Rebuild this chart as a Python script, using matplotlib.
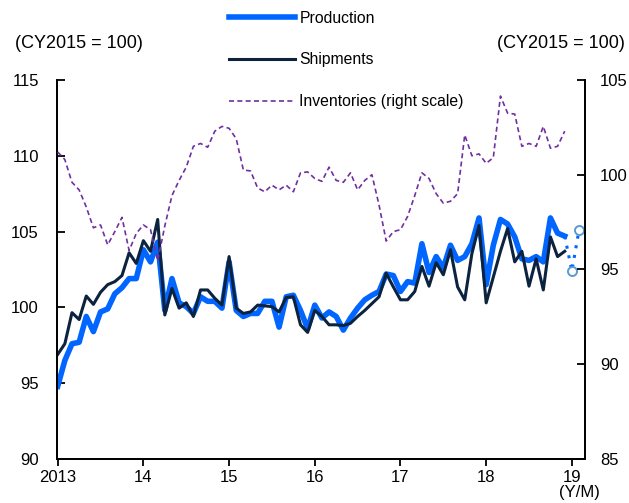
import matplotlib
matplotlib.use("Agg")
import matplotlib.pyplot as plt
from matplotlib.lines import Line2D
import numpy as np

production = [94.8, 96.5, 97.6, 97.7, 99.4, 98.4, 99.7, 99.9, 100.9, 101.3, 101.9, 101.9,
              103.8, 103.0, 104.3, 99.8, 101.9, 100.3, 100.05, 99.6, 100.7, 100.4, 100.4, 99.95,
              103.0, 99.8, 99.4, 99.6, 99.6, 100.4, 100.4, 98.7, 100.7, 100.8, 99.8, 98.6,
              100.15, 99.3, 99.7, 99.4, 98.5, 99.3, 99.95, 100.5, 100.8, 101.05, 102.2, 102.1,
              101.05, 101.7, 101.6, 104.2, 102.3, 103.35, 102.6, 104.1, 103.1, 103.35, 104.2, 105.9,
              101.5, 104.1, 105.8, 105.5, 104.65, 103.2, 103.1, 103.35, 103.0, 105.9, 104.9, 104.7]
shipments = [96.9, 97.6, 99.65, 99.2, 100.75, 100.2, 101.0, 101.5, 101.7, 102.1, 103.6, 102.9,
             104.4, 103.7, 105.8, 99.5, 101.25, 99.95, 100.3, 99.4, 101.15, 101.15, 100.6, 100.15,
             103.35, 99.95, 99.6, 99.7, 100.15, 100.1, 100.05, 99.7, 100.65, 100.7, 98.85, 98.35,
             99.8, 99.4, 98.85, 98.85, 98.8, 98.95, 99.4, 99.8, 100.25, 100.7, 102.25, 101.35,
             100.5, 100.5, 101.05, 102.7, 101.4, 102.95, 102.15, 103.8, 101.35, 100.5, 103.55, 105.4,
             100.3, 102.0, 103.7, 105.2, 103.0, 103.7, 101.4, 103.2, 101.15, 104.65, 103.35, 103.7]
inventories = [101.2, 100.8, 99.6, 99.2, 98.3, 97.2, 97.35, 96.3, 97.0, 97.75, 96.0, 96.9,
               97.35, 97.1, 95.45, 97.3, 98.9, 99.7, 100.4, 101.5, 101.65, 101.45, 102.3, 102.55,
               102.45, 101.9, 100.25, 100.2, 99.3, 99.1, 99.45, 99.2, 99.45, 99.1, 100.1, 100.15,
               99.8, 99.65, 100.4, 99.7, 99.6, 100.1, 99.2, 99.7, 100.0, 98.4, 96.5, 97.0,
               97.1, 97.8, 98.9, 100.1, 99.8, 99.0, 98.5, 98.6, 99.0, 102.1, 101.0, 101.1,
               100.6, 100.9, 104.15, 103.25, 103.2, 101.5, 101.65, 101.5, 102.55, 101.4, 101.5, 102.3]
forecast = [102.4, 105.1]  # Jan, Feb 2019 production forecasts

year_labels = ["2013", "14", "15", "16", "17", "18", "19"]
left_ticks = [90, 95, 100, 105, 110, 115]
right_ticks = [85, 90, 95, 100, 105]

plt.rcParams['font.family'] = ['Liberation Sans', 'DejaVu Sans']

fig = plt.figure(figsize=(6.29, 5.03), dpi=100)
ax = fig.add_axes([0.0906, 0.0875, 0.839, 0.7535])

months = np.arange(len(production))
c_prod = '#0066FF'
c_ship = '#0C2340'
c_inv = '#7030A0'

ax.plot(months, production, color=c_prod, lw=4.0, zorder=2)
ax.plot(months, shipments, color=c_ship, lw=2.2, zorder=3)

fx = [months[-1], months[-1] + 1, months[-1] + 2]
fy = [production[-1]] + forecast
ax.plot(fx, fy, color=c_prod, lw=2.2, ls=(0, (1, 2.2)), zorder=2)
ax.plot(fx[1:], fy[1:], ls='none', marker='o', ms=6.5, mfc='white', mec='#5B9BD5', mew=1.4, zorder=4)

ax.set_xlim(-0.1, 73.8)
ax.set_ylim(90, 115)
ax.set_yticks(left_ticks)
ax.set_xticks(np.arange(0, 73, 12))
ax.set_xticklabels(year_labels)
ax.spines['top'].set_visible(False)
for s in ['left', 'right', 'bottom']:
    ax.spines[s].set_linewidth(1.3)
ax.tick_params(axis='y', direction='in', length=6, width=1.3, labelsize=12, pad=13)
ax.tick_params(axis='x', direction='out', length=5, width=1.3, labelsize=12, pad=3)

ax2 = ax.twinx()
ax2.plot(months, inventories, color=c_inv, lw=1.2, ls=(0, (3, 2)), zorder=3)
ax2.set_ylim(85, 105)
ax2.set_yticks(right_ticks)
ax2.spines['top'].set_visible(False)
for s in ['left', 'right', 'bottom']:
    ax2.spines[s].set_linewidth(1.3)
ax2.tick_params(axis='y', direction='in', length=6, width=1.3, labelsize=12, pad=11)

handles = [Line2D([], [], color=c_prod, lw=4.0),
           Line2D([], [], color=c_ship, lw=2.2),
           Line2D([], [], color=c_inv, lw=1.2, ls=(0, (3, 2)))]
labels = ["Production", "Shipments", "Inventories (right scale)"]
fig.legend(handles, labels, loc='upper left', bbox_to_anchor=(0.35, 0.996), frameon=False,
           fontsize=11.3, handlelength=4.2, handletextpad=0.3, labelspacing=1.7, borderaxespad=0.15)

fig.text(15 / 629, 1 - 44 / 503, "(CY2015 = 100)", fontsize=13, va='center', ha='left')
fig.text(625 / 629, 1 - 44 / 503, "(CY2015 = 100)", fontsize=13, va='center', ha='right')
fig.text(600 / 629, 1 - 493 / 503, "(Y/M)", fontsize=12, va='center', ha='right')

fig.savefig("out.png", dpi=100)
